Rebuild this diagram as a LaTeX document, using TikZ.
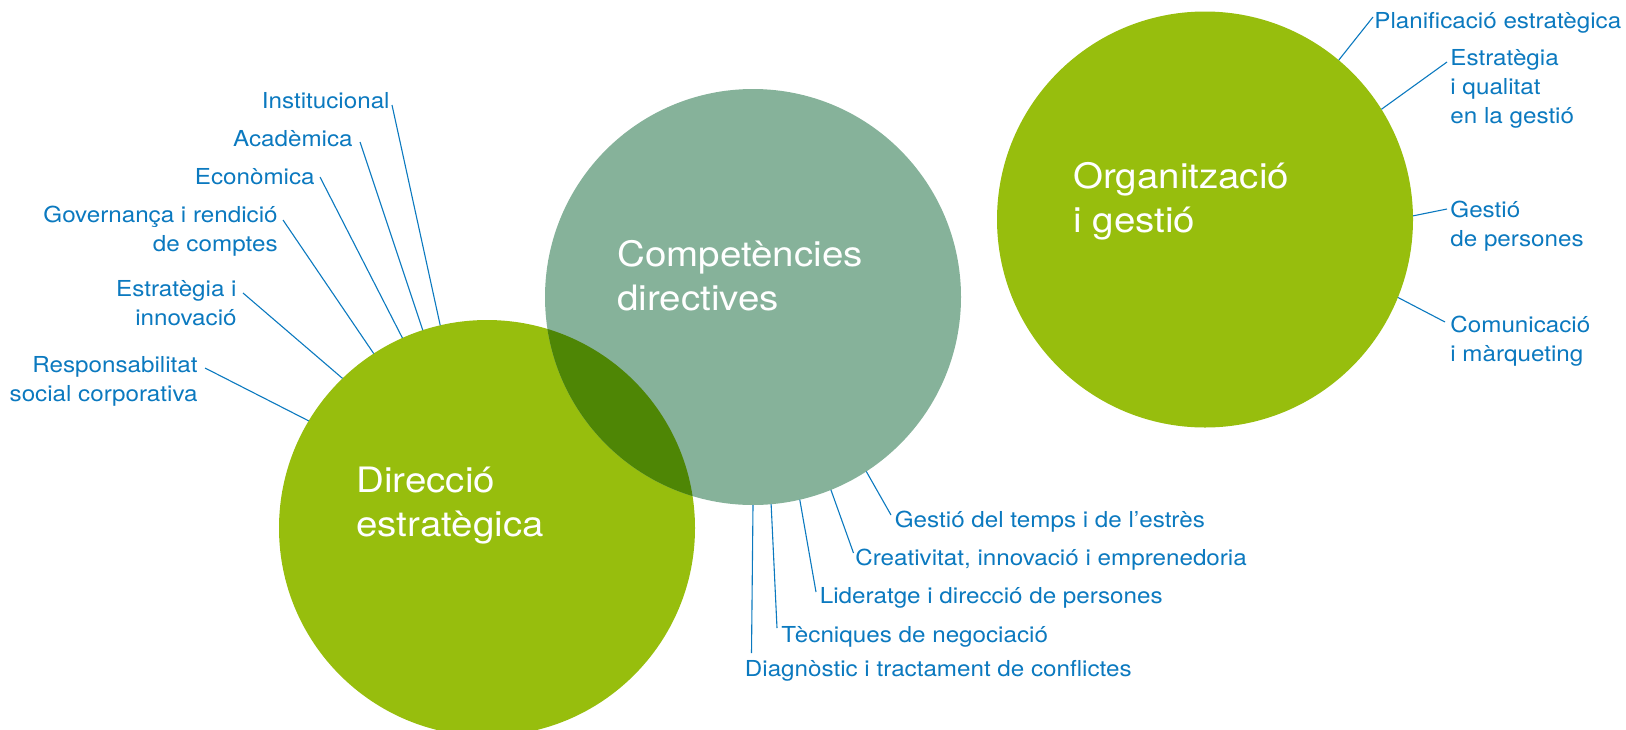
\documentclass[tikz,border=0pt]{standalone}
\usepackage{fontspec}
\setmainfont[FakeStretch=1.1]{TeX Gyre Heros}
\definecolor{lime}{HTML}{97BE0D}
\definecolor{sage}{HTML}{86B29A}
\definecolor{deepgreen}{HTML}{4E8605}
\definecolor{labblue}{HTML}{0B79BF}
\tikzset{
  disc/.style={circle, inner sep=0pt, outer sep=0pt, minimum size=208pt},
  lab/.style={text=labblue, inner sep=0pt, font=\fontsize{11pt}{14.5pt}\selectfont},
  labL/.style={lab, align=right, anchor=base east},
  labR/.style={lab, align=left, anchor=base west},
  big/.style={text=white, inner sep=0pt, align=left, anchor=base west, font=\fontsize{17.5pt}{22pt}\selectfont},
  conn/.style={draw=labblue, line width=0.55pt}
}
\begin{document}
\begin{tikzpicture}[x=0.5pt, y=-0.5pt]
\useasboundingbox (0,0) rectangle (1626,729);
% circles
\node[disc, fill=lime] (D) at (487,528) {};
\node[disc, fill=sage] (C) at (753,297) {};
\begin{scope}
  \clip (D.center) circle[radius=104pt];
  \fill[deepgreen] (C.center) circle[radius=104pt];
\end{scope}
\node[disc, fill=lime] (O) at (1205,219.5) {};
% big titles (anchor at baseline of last line)
\node[big] (tC) at (617,310) {Competències\\directives};
\node[big] (tD) at (356,536) {Direcció\\estratègica};
\node[big] (tO) at (1073,232) {Organització\\i gestió};
% left labels
\node[labL] (inst) at (390,108) {Institucional};
\node[labL] (acad) at (353,146) {Acadèmica};
\node[labL] (econ) at (315,184) {Econòmica};
\node[labL] (gov) at (278,251) {Governança i rendició\\de comptes};
\node[labL] (estr) at (237,325) {Estratègia i\\innovació};
\node[labL] (resp) at (198,401) {Responsabilitat\\social corporativa};
% right labels
\node[labR] (plan) at (1374,28) {Planificació estratègica};
\node[labR] (qual) at (1450,123) {Estratègia\\i qualitat\\en la gestió};
\node[labR] (pers) at (1450,246) {Gestió\\de persones};
\node[labR] (comu) at (1450,361) {Comunicació\\i màrqueting};
% bottom labels
\node[labR] (temps) at (894.5,527) {Gestió del temps i de l’estrès};
\node[labR] (creat) at (855,565) {Creativitat, innovació i emprenedoria};
\node[labR] (lider) at (819.5,603) {Lideratge i direcció de persones};
\node[labR] (tecn) at (781,642) {Tècniques de negociació};
\node[labR] (diag) at (744.5,676) {Diagnòstic i tractament de conflictes};
% connector label ends
\coordinate (inst-e) at (392,105);
\coordinate (acad-e) at (360,142);
\coordinate (econ-e) at (320,177);
\coordinate (gov-e) at (283,220);
\coordinate (estr-e) at (243,293);
\coordinate (resp-e) at (205,368);
\coordinate (plan-e) at (1373,17);
\coordinate (qual-e) at (1447,62);
\coordinate (pers-e) at (1447,209);
\coordinate (comu-e) at (1445,322);
\coordinate (temps-e) at (891,515);
\coordinate (creat-e) at (853.5,553);
\coordinate (lider-e) at (816,592);
\coordinate (tecn-e) at (777,628);
\coordinate (diag-e) at (751.5,653);
% connectors
\draw[conn] (inst-e) -- (D.103);
\draw[conn] (acad-e) -- (D.108.7);
\draw[conn] (econ-e) -- (D.114.9);
\draw[conn] (gov-e) -- (D.123.6);
\draw[conn] (estr-e) -- (D.134.8);
\draw[conn] (resp-e) -- (D.149.8);
\draw[conn] (plan-e) -- (O.50);
\draw[conn] (qual-e) -- (O.32.6);
\draw[conn] (pers-e) -- (O.1.8);
\draw[conn] (comu-e) -- (O.-22.7);
\draw[conn] (temps-e) -- (C.-57.6);
\draw[conn] (creat-e) -- (C.-68.5);
\draw[conn] (lider-e) -- (C.-77.8);
\draw[conn] (tecn-e) -- (C.-85.9);
\draw[conn] (diag-e) -- (C.-90.4);
\end{tikzpicture}
\end{document}
